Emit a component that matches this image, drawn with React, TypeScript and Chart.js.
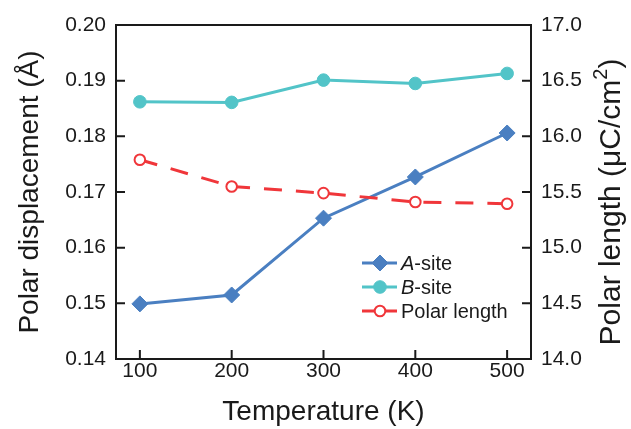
import React, { useEffect, useRef } from 'react';
import { Chart, registerables } from 'chart.js';

Chart.register(...registerables);

const temperatures = [100, 200, 300, 400, 500];
const aSite = [0.1499, 0.1515, 0.1653, 0.1727, 0.1806];
const bSite = [0.1862, 0.1861, 0.1901, 0.1895, 0.1913];
const polarLength = [15.79, 15.55, 15.49, 15.41, 15.395];
const xTicks = [100, 200, 300, 400, 500];
const leftTicks = [0.14, 0.15, 0.16, 0.17, 0.18, 0.19, 0.2];
const rightTicks = [14.0, 14.5, 15.0, 15.5, 16.0, 16.5, 17.0];

const BLUE = '#4a7fc1';
const TEAL = '#52c4c8';
const RED = '#f0363a';
const AXIS = '#1a1a1a';
const FONT = 'Arial, "Liberation Sans", sans-serif';

const framePlugin = {
  id: 'frame',
  beforeDatasetsDraw(chart: any) {
    const { ctx, chartArea: a, scales } = chart;
    ctx.save();
    ctx.strokeStyle = AXIS;
    ctx.lineWidth = 2;
    ctx.strokeRect(a.left, a.top, a.right - a.left, a.bottom - a.top);
    const tl = 9;
    ctx.beginPath();
    xTicks.forEach((v) => {
      const px = scales.x.getPixelForValue(v);
      ctx.moveTo(px, a.bottom);
      ctx.lineTo(px, a.bottom - tl);
    });
    leftTicks.forEach((v) => {
      const py = scales.y.getPixelForValue(v);
      ctx.moveTo(a.left, py);
      ctx.lineTo(a.left + tl, py);
    });
    rightTicks.forEach((v) => {
      const py = scales.y2.getPixelForValue(v);
      ctx.moveTo(a.right, py);
      ctx.lineTo(a.right - tl, py);
    });
    ctx.stroke();
    ctx.restore();
  },
  afterDraw(chart: any) {
    const { ctx } = chart;
    ctx.save();
    // Right axis title (reads bottom to top)
    const big = `30px ${FONT}`;
    const small = `20px ${FONT}`;
    const p1 = 'Polar length (\u03bcC/cm';
    const p2 = '2';
    const p3 = ')';
    ctx.font = big;
    const w1 = ctx.measureText(p1).width;
    const w3 = ctx.measureText(p3).width;
    ctx.font = small;
    const w2 = ctx.measureText(p2).width;
    const total = w1 + w2 + w3;
    ctx.translate(612, 202);
    ctx.rotate(-Math.PI / 2);
    ctx.fillStyle = AXIS;
    ctx.textBaseline = 'middle';
    ctx.textAlign = 'left';
    let x = -total / 2;
    ctx.font = big;
    ctx.fillText(p1, x, 0);
    x += w1;
    ctx.font = small;
    ctx.fillText(p2, x, -11);
    x += w2;
    ctx.font = big;
    ctx.fillText(p3, x, 0);
    ctx.restore();

    // Legend
    ctx.save();
    const rows = [263, 287, 311];
    const lx0 = 362;
    const lx1 = 397;
    const mx = 380;
    chart.data.datasets.forEach((ds: any, i: number) => {
      const y = rows[i];
      ctx.strokeStyle = ds.borderColor;
      ctx.lineWidth = 3;
      ctx.setLineDash([]);
      ctx.beginPath();
      ctx.moveTo(lx0, y);
      ctx.lineTo(lx1, y);
      ctx.stroke();
      const r = ds.pointRadius;
      ctx.beginPath();
      if (ds.pointStyle === 'rectRot') {
        ctx.moveTo(mx, y - r);
        ctx.lineTo(mx + r, y);
        ctx.lineTo(mx, y + r);
        ctx.lineTo(mx - r, y);
        ctx.closePath();
      } else {
        ctx.arc(mx, y, r, 0, Math.PI * 2);
      }
      ctx.fillStyle = ds.pointBackgroundColor;
      ctx.fill();
      ctx.strokeStyle = ds.pointBorderColor;
      ctx.lineWidth = ds.pointBorderWidth;
      ctx.stroke();

      ctx.fillStyle = AXIS;
      ctx.textBaseline = 'middle';
      ctx.textAlign = 'left';
      const label: string = ds.label;
      const tx = 401;
      if (label.endsWith('-site')) {
        const italic = label.slice(0, 1);
        const rest = label.slice(1);
        ctx.font = `italic 20px ${FONT}`;
        ctx.fillText(italic, tx, y + 1);
        const wi = ctx.measureText(italic).width;
        ctx.font = `20px ${FONT}`;
        ctx.fillText(rest, tx + wi, y + 1);
      } else {
        ctx.font = `20px ${FONT}`;
        ctx.fillText(label, tx, y + 1);
      }
    });
    ctx.restore();
  },
};

export default function App() {
  const ref = useRef<HTMLCanvasElement | null>(null);

  useEffect(() => {
    if (!ref.current) return;
    const chart = new Chart(ref.current, {
      type: 'line',
      data: {
        datasets: [
          {
            label: 'A-site',
            data: temperatures.map((t, i) => ({ x: t, y: aSite[i] })),
            yAxisID: 'y',
            order: 1,
            borderColor: BLUE,
            backgroundColor: BLUE,
            borderWidth: 3,
            pointStyle: 'rectRot',
            pointRadius: 8,
            pointBackgroundColor: BLUE,
            pointBorderColor: BLUE,
            pointBorderWidth: 1,
          },
          {
            label: 'B-site',
            data: temperatures.map((t, i) => ({ x: t, y: bSite[i] })),
            yAxisID: 'y',
            order: 2,
            borderColor: TEAL,
            backgroundColor: TEAL,
            borderWidth: 3,
            pointStyle: 'circle',
            pointRadius: 6.3,
            pointBackgroundColor: TEAL,
            pointBorderColor: TEAL,
            pointBorderWidth: 1,
          },
          {
            label: 'Polar length',
            data: temperatures.map((t, i) => ({ x: t, y: polarLength[i] })),
            yAxisID: 'y2',
            order: 0,
            borderColor: RED,
            backgroundColor: '#ffffff',
            borderWidth: 3,
            borderDash: [18, 14],
            pointStyle: 'circle',
            pointRadius: 5.3,
            pointBackgroundColor: '#ffffff',
            pointBorderColor: RED,
            pointBorderWidth: 2,
          },
        ],
      },
      options: {
        animation: false,
        responsive: false,
        maintainAspectRatio: false,
        events: [],
        layout: { padding: { top: 25, left: 0, right: 0, bottom: 0 } },
        plugins: {
          legend: { display: false },
          tooltip: { enabled: false },
        },
        scales: {
          x: {
            type: 'linear',
            min: 74,
            max: 526,
            afterBuildTicks: (s: any) => {
              s.ticks = xTicks.map((v) => ({ value: v }));
            },
            afterFit: (s: any) => {
              s.height = 70;
            },
            grid: { display: false, drawTicks: false, tickLength: 0 },
            border: { display: false },
            ticks: {
              font: { size: 21, family: FONT },
              color: AXIS,
              padding: 0,
              callback: (v: any) => String(v),
            },
            title: {
              display: true,
              text: 'Temperature (K)',
              font: { size: 28, family: FONT },
              color: AXIS,
              padding: { top: 0, bottom: 0 },
            },
          },
          y: {
            type: 'linear',
            position: 'left',
            min: 0.14,
            max: 0.2,
            afterBuildTicks: (s: any) => {
              s.ticks = leftTicks.map((v) => ({ value: v }));
            },
            afterFit: (s: any) => {
              s.width = 116;
            },
            grid: { display: false, drawTicks: false, tickLength: 0 },
            border: { display: false },
            ticks: {
              font: { size: 21, family: FONT },
              color: AXIS,
              padding: 10,
              callback: (v: any) => Number(v).toFixed(2),
            },
            title: {
              display: true,
              text: 'Polar displacement (\u00c5)',
              font: { size: 28, family: FONT },
              color: AXIS,
              padding: { top: 13, bottom: 0 },
            },
          },
          y2: {
            type: 'linear',
            position: 'right',
            min: 14,
            max: 17,
            afterBuildTicks: (s: any) => {
              s.ticks = rightTicks.map((v) => ({ value: v }));
            },
            afterFit: (s: any) => {
              s.width = 100;
            },
            grid: { display: false, drawTicks: false, tickLength: 0 },
            border: { display: false },
            ticks: {
              font: { size: 21, family: FONT },
              color: AXIS,
              padding: 10,
              callback: (v: any) => Number(v).toFixed(1),
            },
          },
        },
      },
      plugins: [framePlugin],
    } as any);
    return () => chart.destroy();
  }, []);

  return (
    <div style={{ position: 'fixed', left: 0, top: 0, width: 631, height: 429, background: '#ffffff' }}>
      <canvas ref={ref} width={631} height={429} style={{ width: 631, height: 429, display: 'block' }} />
    </div>
  );
}
